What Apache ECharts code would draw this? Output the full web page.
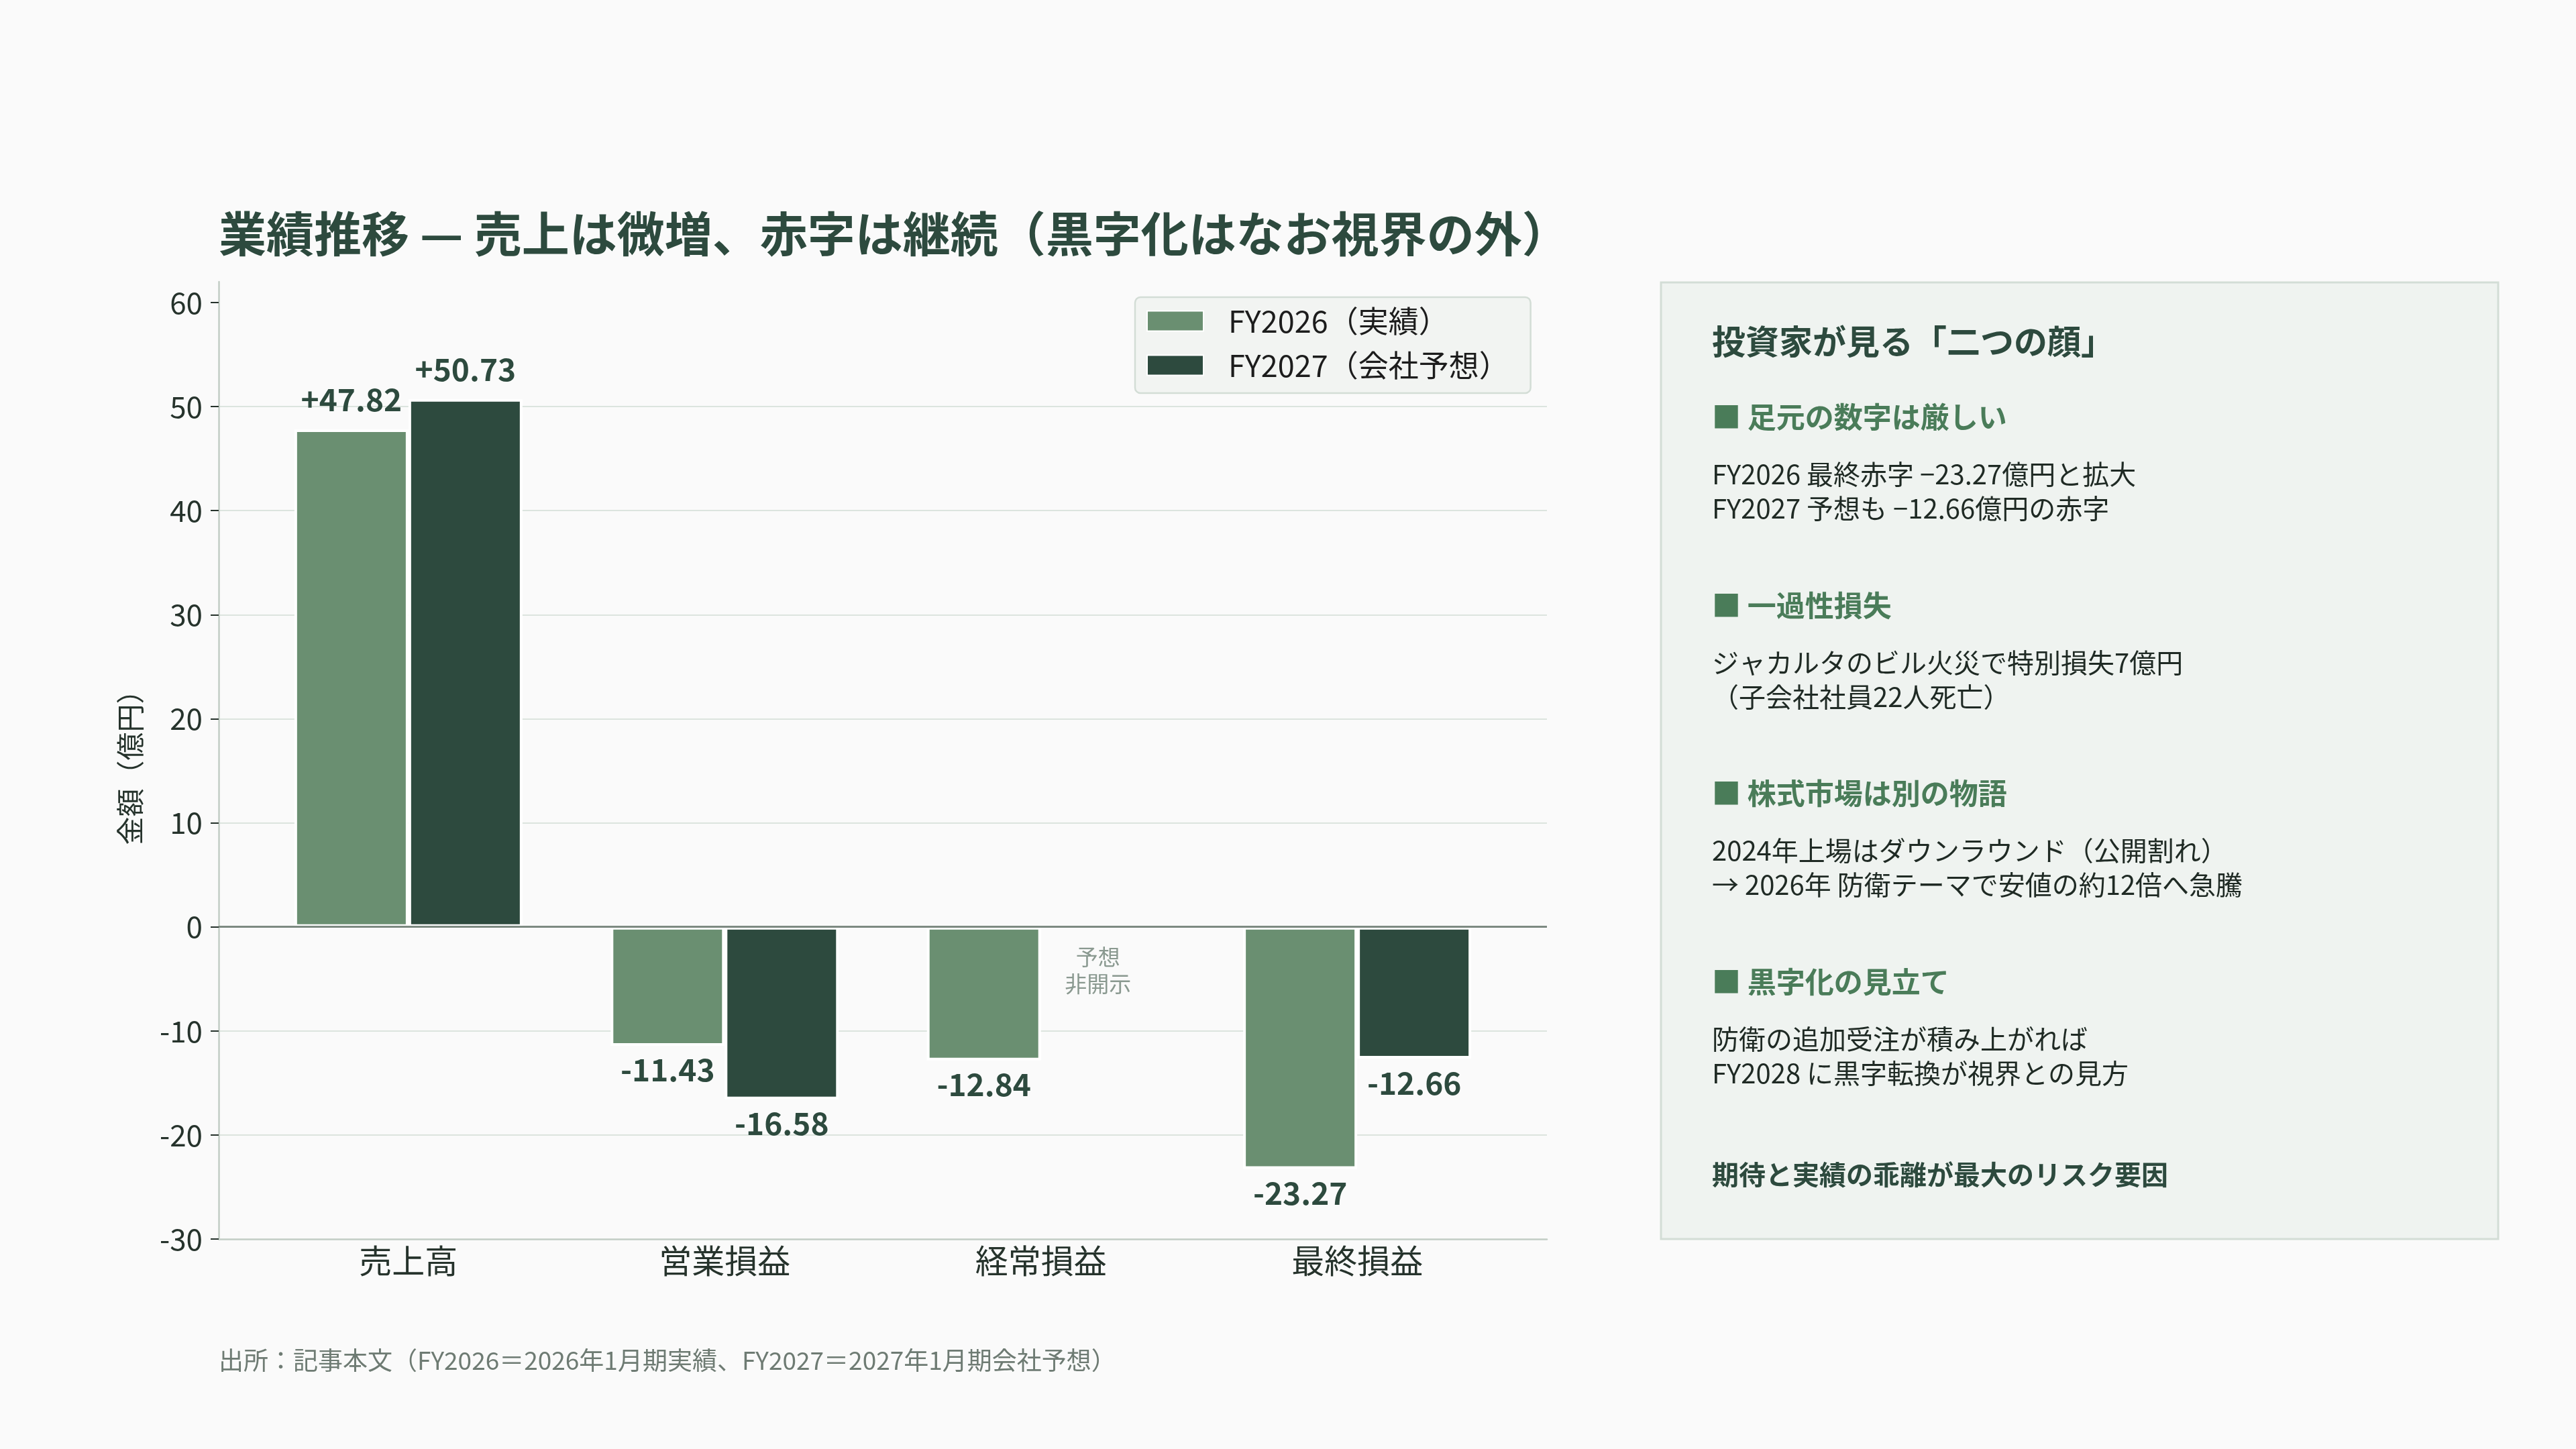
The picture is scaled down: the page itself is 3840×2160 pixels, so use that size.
<!DOCTYPE html>
<html>
<head>
<meta charset="utf-8">
<script src="https://cdn.jsdelivr.net/npm/echarts@6/dist/echarts.min.js"></script>
<style>
  html, body { margin: 0; padding: 0; background: #fafafa; }
  #chart { width: 3840px; height: 2160px; }
</style>
</head>
<body>
<div id="chart"></div>
<script>
// data (億円)
const categories = ["売上高", "営業損益", "経常損益", "最終損益"];
const seriesNames = ["FY2026（実績）", "FY2027（会社予想）"];
const fy2026 = [47.82, -11.43, -12.84, -23.27];
const fy2027 = [50.73, -16.58, null, -12.66]; // 経常損益は予想非開示
const yTicks = [-30, -20, -10, 0, 10, 20, 30, 40, 50, 60];
const categoryTicks = [0, 1, 2, 3];
const undisclosedNote = { x: 2, y: -4.2, text: "予想\n非開示" };

const titleText = "業績推移 — 売上は微増、赤字は継続（黒字化はなお視界の外）";
const sourceText = "出所：記事本文（FY2026＝2026年1月期実績、FY2027＝2027年1月期会社予想）";
const panelTitle = "投資家が見る「二つの顔」";
const panelSections = [
  { head: "■ 足元の数字は厳しい", lines: ["FY2026 最終赤字 −23.27億円と拡大", "FY2027 予想も −12.66億円の赤字"] },
  { head: "■ 一過性損失", lines: ["ジャカルタのビル火災で特別損失7億円", "（子会社社員22人死亡）"] },
  { head: "■ 株式市場は別の物語", lines: ["2024年上場はダウンラウンド（公開割れ）", "→ 2026年 防衛テーマで安値の約12倍へ急騰"] },
  { head: "■ 黒字化の見立て", lines: ["防衛の追加受注が積み上がれば", "FY2028 に黒字転換が視界との見方"] },
];
const panelClosing = "期待と実績の乖離が最大のリスク要因";

const FONT = "'Noto Sans CJK JP', 'Noto Sans', sans-serif";
const DARK = "#2d4a3e";
const INK = "#26332c";

function fmt(v) {
  return (v > 0 ? "+" : "") + v.toFixed(2);
}

function barData(values) {
  return values
    .map((v, i) => v == null ? null : {
      value: [i, v],
      label: { position: v >= 0 ? "top" : "bottom", distance: v >= 0 ? 21 : 13 },
    })
    .filter(Boolean);
}

function panelGraphics() {
  const x = 2552;
  const out = [
    {
      type: "rect", z: 0,
      shape: { x: 2476, y: 421, width: 1248, height: 1426 },
      style: { fill: "#eff3f0", stroke: "#d3ddd6", lineWidth: 3 },
    },
    {
      type: "text", x, y: 509, z: 1,
      style: { text: panelTitle, fill: DARK, font: `bold 50px ${FONT}`, verticalAlign: "middle" },
    },
  ];
  panelSections.forEach((s, i) => {
    const hy = 622 + i * 280.5;
    out.push({
      type: "text", x, y: hy, z: 1,
      style: { text: s.head, fill: "#4a7c59", font: `bold 43px ${FONT}`, verticalAlign: "middle" },
    });
    s.lines.forEach((t, j) => {
      out.push({
        type: "text", x, y: hy + 85 + j * 51, z: 1,
        style: { text: t, fill: "#1f2a24", font: `40px ${FONT}`, verticalAlign: "middle" },
      });
    });
  });
  out.push({
    type: "text", x, y: 1751, z: 1,
    style: { text: panelClosing, fill: DARK, font: `bold 40px ${FONT}`, verticalAlign: "middle" },
  });
  out.push({
    type: "text", x: 326, y: 2028, z: 1,
    style: { text: sourceText, fill: "#6e7b73", font: `37px ${FONT}`, verticalAlign: "middle" },
  });
  return out;
}

const barLabel = {
  show: true,
  formatter: (p) => fmt(p.value[1]),
  fontSize: 46,
  fontWeight: "bold",
  color: DARK,
  fontFamily: FONT,
};

const option = {
  backgroundColor: "#fafafa",
  animation: false,
  textStyle: { fontFamily: FONT },
  title: {
    text: titleText,
    left: 326,
    top: 313,
    padding: 0,
    textStyle: { fontSize: 71, fontWeight: "bold", color: DARK, fontFamily: FONT, lineHeight: 71 },
  },
  legend: {
    orient: "vertical",
    left: 1692,
    top: 443,
    data: seriesNames,
    icon: "rect",
    itemWidth: 84,
    itemHeight: 30,
    itemGap: 21,
    padding: [13, 32, 19, 17],
    backgroundColor: "#f2f4f2",
    borderColor: "#d3ddd6",
    borderWidth: 2.5,
    borderRadius: 8,
    selectedMode: false,
    textStyle: { fontSize: 45, color: "#1c1c1c", lineHeight: 45, padding: [0, 0, 0, 32], fontFamily: FONT },
  },
  grid: { left: 326, right: 1534, top: 420, bottom: 313 },
  xAxis: {
    type: "value",
    min: -0.6,
    max: 3.6,
    axisLine: { show: true, onZero: false, lineStyle: { color: "#c2cdc5", width: 2.5 } },
    axisTick: { show: false },
    splitLine: { show: false },
    axisLabel: {
      customValues: categoryTicks,
      formatter: (v) => categories[Math.round(v)],
      fontSize: 49,
      color: INK,
      margin: 8,
      fontFamily: FONT,
    },
  },
  yAxis: {
    type: "value",
    min: -30,
    max: 62,
    interval: 10,
    name: "金額（億円）",
    nameLocation: "middle",
    nameGap: 111,
    nameRotate: 90,
    nameTextStyle: { fontSize: 42, color: INK, fontFamily: FONT },
    axisLine: { show: true, onZero: false, lineStyle: { color: "#c2cdc5", width: 2.5 } },
    axisTick: { show: true, length: 12, customValues: yTicks, lineStyle: { color: INK, width: 2 } },
    axisLabel: { customValues: yTicks, fontSize: 44, color: INK, margin: 24, fontFamily: FONT },
    splitLine: { show: true, showMinLine: false, showMaxLine: false, lineStyle: { color: "#dce4de", width: 2 } },
  },
  series: [
    {
      name: seriesNames[0],
      type: "bar",
      barWidth: 170,
      barGap: "0%",
      itemStyle: { color: "#6a8f71", borderColor: "#ffffff", borderWidth: 4 },
      emphasis: { disabled: true },
      label: barLabel,
      data: barData(fy2026),
      markLine: {
        silent: true,
        symbol: "none",
        label: { show: false },
        lineStyle: { color: "#7d8a82", width: 3, type: "solid" },
        data: [{ yAxis: 0 }],
      },
    },
    {
      name: seriesNames[1],
      type: "bar",
      barWidth: 170,
      barGap: "0%",
      itemStyle: { color: DARK, borderColor: "#ffffff", borderWidth: 4 },
      emphasis: { disabled: true },
      label: barLabel,
      data: barData(fy2027),
      // placed at this series' slot of 経常損益 (bar offset is applied by ECharts)
      markPoint: {
        silent: true,
        symbol: "circle",
        symbolSize: 0,
        label: {
          show: true,
          position: "inside",
          formatter: undisclosedNote.text,
          fontSize: 33,
          lineHeight: 40,
          color: "#8a9990",
          fontFamily: FONT,
        },
        data: [{ coord: [undisclosedNote.x, undisclosedNote.y] }],
      },
    },
  ],
  graphic: panelGraphics(),
};

const chart = echarts.init(document.getElementById("chart"));
chart.setOption(option);
window.addEventListener("resize", () => chart.resize());
</script>
</body>
</html>
